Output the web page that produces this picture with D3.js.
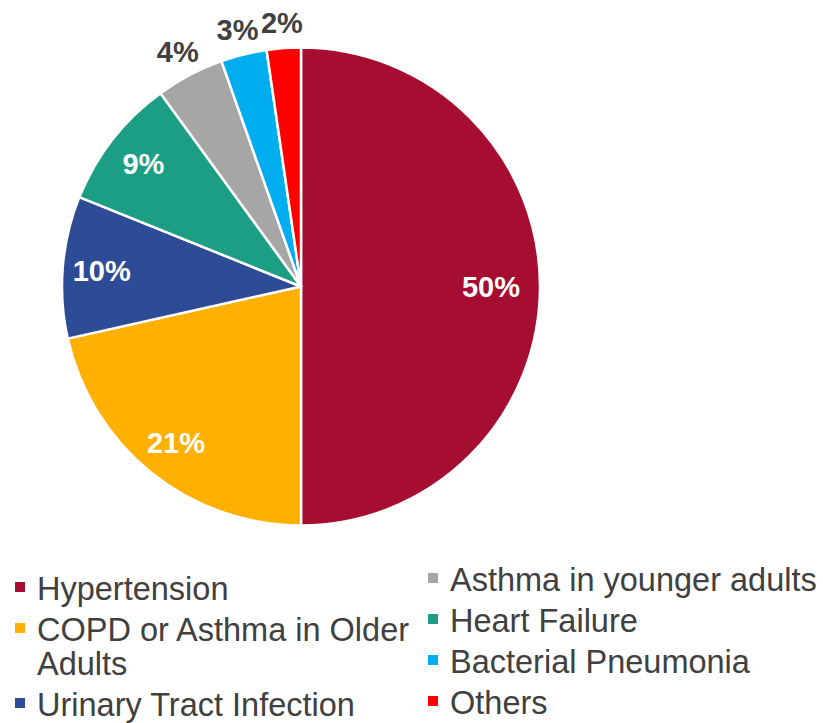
<!DOCTYPE html>
<html lang="en">
<head>
    <meta charset="utf-8" />
    <title>Pie</title>
    <script src="https://d3js.org/d3.v7.min.js"></script>
    <style>
        body { margin: 0; background: #fff; }
        text { font-family: "Liberation Sans", Arial, sans-serif; }
    </style>
</head>
<body>
    <script>
        // data
        var categories = ["Hypertension", "COPD or Asthma in Older Adults", "Urinary Tract Infection",
            "Heart Failure", "Asthma in younger adults", "Bacterial Pneumonia", "Others"];
        var values = [50, 21.5, 9.6, 8.9, 4.6, 3.1, 2.3];
        var labels = ["50%", "21%", "10%", "9%", "4%", "3%", "2%"];
        var colors = ["#A50E30", "#FFB000", "#2E4B96", "#1B9E84", "#A6A6A6", "#00AEEF", "#FF0000"];

        var width = 823, height = 723;
        var cx = 301, cy = 286.5, R = 239;

        var svg = d3.select("body").append("svg")
            .attr("width", width)
            .attr("height", height);

        var pie = d3.pie().sort(null).value(function (d) { return d; });
        var arcs = pie(values);
        var arc = d3.arc().innerRadius(0).outerRadius(R);
        var inLabel = d3.arc().innerRadius(200).outerRadius(200);
        var outLabel = d3.arc().innerRadius(265).outerRadius(265);

        var g = svg.append("g").attr("transform", "translate(" + cx + "," + cy + ")");

        g.selectAll("path")
            .data(arcs)
            .enter().append("path")
            .attr("d", arc)
            .attr("fill", function (d, i) { return colors[i]; })
            .attr("stroke", "#fff")
            .attr("stroke-width", 2.5)
            .attr("stroke-linejoin", "round");

        // small slices get their label outside
        g.selectAll("text.lbl")
            .data(arcs)
            .enter().append("text")
            .attr("class", "lbl")
            .attr("transform", function (d) {
                var c = d.data < 5 ? outLabel.centroid(d) : inLabel.centroid(d);
                if (d.index === 0) c[0] -= 10;
                return "translate(" + c + ")";
            })
            .attr("text-anchor", "middle")
            .attr("dy", "0.36em")
            .attr("font-size", 29)
            .attr("font-weight", "bold")
            .attr("fill", function (d) { return d.data < 5 ? "#404040" : "#fff"; })
            .text(function (d, i) { return labels[i]; });

        //legend: two columns
        var cols = [
            { x: 15, y: 600, items: [0, 1, 2] },
            { x: 428, y: 591, items: [4, 3, 5, 6] }
        ];
        var legend = svg.append("g").attr("font-size", 32.5).attr("fill", "#404040");

        cols.forEach(function (col) {
            var y = col.y;
            col.items.forEach(function (k) {
                legend.append("rect")
                    .attr("x", col.x).attr("y", y - 18)
                    .attr("width", 10).attr("height", 10)
                    .attr("fill", colors[k]);
                var t = legend.append("text").attr("x", col.x + 22).attr("y", y);
                var lines = wrap(t, categories[k], 385);
                y += (lines - 1) * 34 + 41;
            });
        });

        function wrap(t, str, maxW) {
            var words = str.split(" "), line = [], n = 1;
            var ts = t.append("tspan").attr("x", t.attr("x"));
            words.forEach(function (w) {
                line.push(w);
                ts.text(line.join(" "));
                if (ts.node().getComputedTextLength() > maxW && line.length > 1) {
                    line.pop();
                    ts.text(line.join(" "));
                    line = [w];
                    ts = t.append("tspan").attr("x", t.attr("x")).attr("dy", 34).text(w);
                    n++;
                }
            });
            return n;
        }
    </script>
</body>
</html>
